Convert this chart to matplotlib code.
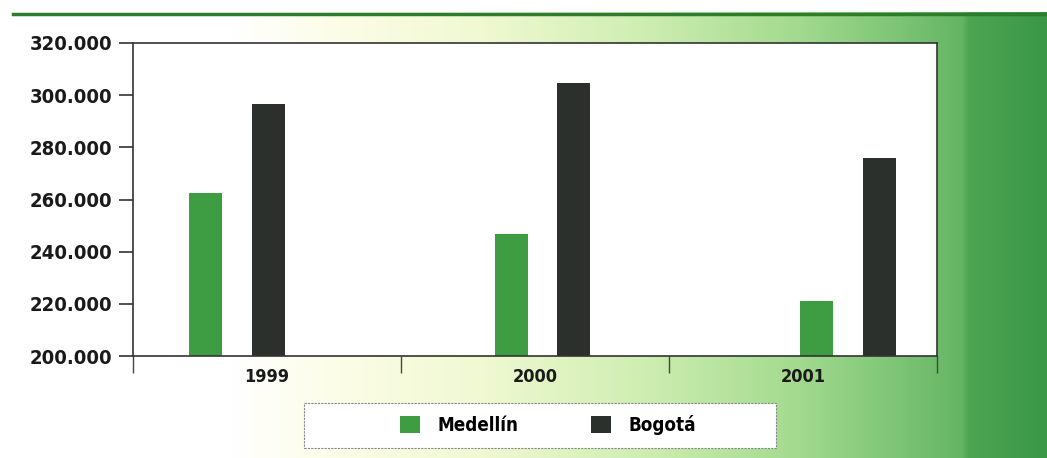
import numpy as np
import matplotlib
matplotlib.use("Agg")
import matplotlib.pyplot as plt
from matplotlib.patches import Rectangle, Patch
from matplotlib.lines import Line2D
from matplotlib.colors import to_rgb

plt.rcParams['font.family'] = ['DejaVu Sans']
plt.rcParams['font.weight'] = 'bold'
plt.rcParams['font.stretch'] = 'condensed'

# datos (personas, aprox.)
anios = ["1999", "2000", "2001"]
medellin = [262500, 246800, 221100]
bogota = [296600, 304700, 275900]
series = ["Medellín", "Bogotá"]
yticks = [200000, 220000, 240000, 260000, 280000, 300000, 320000]
ytick_labels = ["200.000", "220.000", "240.000", "260.000", "280.000", "300.000", "320.000"]

verde = "#3e9c42"
oscuro = "#2c302c"

W, H = 1047, 458
fig = plt.figure(figsize=(W / 100, H / 100), dpi=100)

# fondo degradado
bg = fig.add_axes([0, 0, 1, 1])
bg.set_axis_off()
paradas = [(0, "#ffffff"), (230, "#ffffff"), (340, "#fcfde6"), (480, "#f0f9d2"),
           (640, "#cfeeb2"), (800, "#a2da8e"), (900, "#7cc476"), (962, "#64b464"),
           (968, "#4da552"), (1047, "#3a9846")]
xs = np.arange(W)
px = [p for p, c in paradas]
cols = np.array([to_rgb(c) for p, c in paradas])
fila = np.stack([np.interp(xs, px, cols[:, k]) for k in range(3)], axis=-1)
img = np.repeat(fila[None, :, :], H, axis=0)
img[:12, :, :] = 1.0
img[:, :12, :] = 1.0
bg.imshow(img, extent=[0, W, H, 0], aspect='auto')
bg.set_xlim(0, W)
bg.set_ylim(H, 0)
bg.add_line(Line2D([13, W], [14, 14], color="#2e7d2e", lw=2.5))

# ejes principales
ax = fig.add_axes([133 / W, 1 - 356 / H, 804 / W, 313 / H])
ax.set_facecolor("white")
x = np.arange(len(anios))
ancho = 0.123
x_med = 0.272 + 1.14 * x
x_bog = x_med + 0.232
ax.bar(x_med, [v - 200000 for v in medellin], ancho, bottom=200000, color=verde, label=series[0])
ax.bar(x_bog, [v - 200000 for v in bogota], ancho, bottom=200000, color=oscuro, label=series[1])

ax.set_xlim(0, 3)
ax.set_ylim(200000, 320000)
ax.set_yticks(yticks)
ax.set_yticklabels(ytick_labels, fontsize=14.5, fontweight='bold', color="#1a1a1a")
ax.tick_params(axis='y', length=10, width=1.2, pad=5, color="#333333")

ax.set_xticks(x + 0.5)
ax.set_xticklabels(anios, fontsize=13, fontweight='bold', color="#1a1a1a")
ax.tick_params(axis='x', which='major', length=0, pad=9)
ax.set_xticks([0, 1, 2, 3], minor=True)
ax.tick_params(axis='x', which='minor', length=12, width=1.0, color="#444444")

for s in ax.spines.values():
    s.set_color("#333333")
    s.set_linewidth(1.2)

# leyenda
fig.add_artist(Rectangle((304 / W, 1 - 448 / H), 472 / W, 45 / H, transform=fig.transFigure,
                         facecolor="white", edgecolor="#888888", lw=0.8, linestyle=(0, (2, 1))))
handles = [Patch(facecolor=verde), Patch(facecolor=oscuro)]
fig.legend(handles, series, loc='center', bbox_to_anchor=(548 / W, 1 - 425 / H), ncol=2,
           frameon=False, prop={'size': 13.5, 'weight': 'bold', 'stretch': 'condensed'},
           handlelength=1.07, handleheight=1.07, handletextpad=0.9, columnspacing=3.9)

fig.savefig("out.png", dpi=100)
